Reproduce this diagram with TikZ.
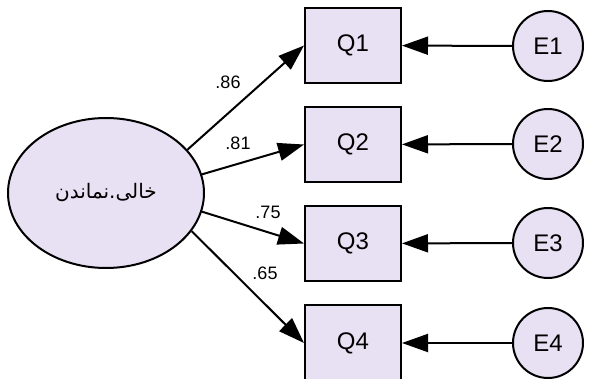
\documentclass[tikz,border=0pt]{standalone}
\usepackage{fontspec}
\setmainfont{Liberation Sans}
\newfontfamily\arabicfont[Script=Arabic]{DejaVu Sans}
\TeXXeTstate=1
\usetikzlibrary{shapes.geometric,arrows.meta}
\definecolor{lav}{RGB}{232,224,243}
\tikzset{
  every picture/.style={line width=2pt},
  obs/.style={draw=black, fill=lav, minimum width=96pt, minimum height=75pt, inner sep=0pt, font=\fontsize{24}{24}\selectfont},
  err/.style={draw=black, fill=lav, circle, minimum size=70pt, inner sep=0pt, font=\fontsize{24}{24}\selectfont},
  lat/.style={draw=black, fill=lav, ellipse, minimum width=196pt, minimum height=150pt, inner sep=0pt},
  path/.style={-{Triangle[length=26pt,width=18pt]}, line width=2pt},
  coef/.style={font=\fontsize{18}{18}\selectfont, inner sep=0pt}
}
\begin{document}
\begin{tikzpicture}[x=1pt,y=-1pt]
\useasboundingbox (0,0) rectangle (589,379);
\node[lat] (L) at (106,193) {\fontsize{20}{20}\selectfont\arabicfont\beginR خالی.نماندن\endR};
\node[obs] (Q1) at (353,45.5) {Q1};
\node[obs] (Q2) at (353,144.5) {Q2};
\node[obs] (Q3) at (353,243.5) {Q3};
\node[obs] (Q4) at (353,343) {Q4};
\node[err] (E1) at (548,46) {E1};
\node[err] (E2) at (548,144) {E2};
\node[err] (E3) at (548,243) {E3};
\node[err] (E4) at (548,343) {E4};
\draw[path] (L.28) -- (Q1.west);
\draw[path] (L.11) -- (Q2.west);
\draw[path] (L.-11) -- (Q3.west);
\draw[path] (L.-24) -- (Q4.west);
\draw[path] (E1) -- (Q1);
\draw[path] (E2) -- (Q2);
\draw[path] (E3) -- (Q3);
\draw[path] (E4) -- (Q4);
\node[coef] (c1) at (228,82) {.86};
\node[coef] (c2) at (238,143) {.81};
\node[coef] (c3) at (268,212) {.75};
\node[coef] (c4) at (265,273) {.65};
\end{tikzpicture}
\end{document}
